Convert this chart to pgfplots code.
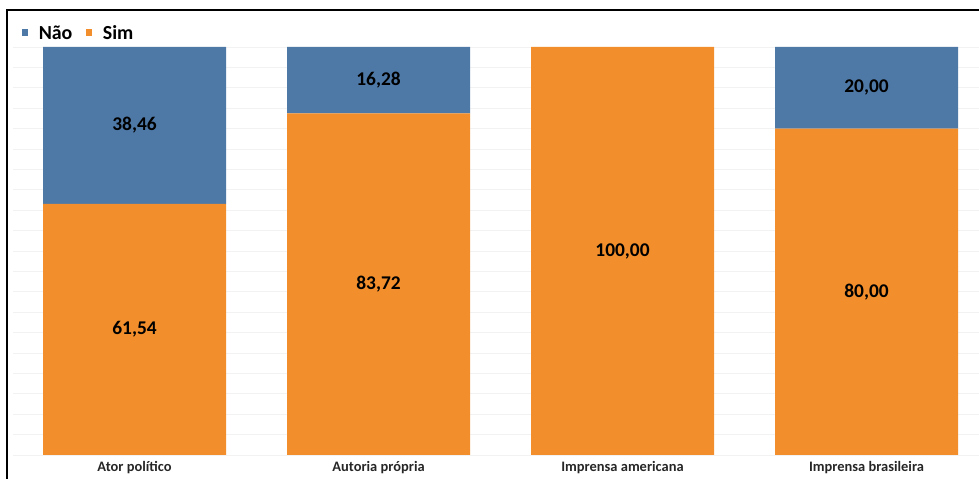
\documentclass[border=0pt]{standalone}
\usepackage{pgfplots}
\pgfplotsset{compat=1.18}
\usepackage{fontspec}
\setmainfont{Carlito}
\definecolor{nao}{HTML}{4E79A7}
\definecolor{sim}{HTML}{F28E2B}
\begin{document}
\begin{tikzpicture}[x=1bp,y=1bp]
\useasboundingbox (0,0) rectangle (979,479);
% frame around the chart
\draw[line width=2bp] (7,-5) -- (7,469) -- (990,469);
\begin{axis}[
  at={(13bp,24bp)}, anchor=south west,
  scale only axis, width=966bp, height=408bp,
  xmin=-0.498, xmax=3.461, ymin=0, ymax=100,
  ybar stacked, bar width=0.75,
  xtick={0,1,2,3},
  xticklabels={Ator político, Autoria própria, Imprensa americana, Imprensa brasileira},
  x tick label style={font=\bfseries\fontsize{14.5}{16}\selectfont, text=black!85, yshift=-3bp},
  ytick={0,5,...,100}, yticklabels={},
  ymajorgrids, grid style={color=black!5, line width=0.8bp},
  axis line style={draw=none}, major tick length=0pt,
  legend columns=2,
  legend style={at={(0.0095,1.036)}, anchor=west, draw=none, fill=none,
    font=\bfseries\fontsize{20}{22}\selectfont, inner sep=0pt,
    /tikz/every odd column/.append style={column sep=9bp},
    /tikz/every even column/.append style={column sep=12bp}},
  point meta=rawy,
  nodes near coords={\pgfmathfloatifflags{\pgfplotspointmeta}{0}{}{\pgfmathprintnumber{\pgfplotspointmeta}}},
  every node near coord/.append style={anchor=center,
    font=\bfseries\fontsize{19.5}{22}\selectfont, text=black},
  /pgf/number format/.cd, fixed, fixed zerofill, precision=2, use comma, assume math mode=true,
]
\addlegendimage{legend image code/.code={\fill[nao] (0bp,-3bp) rectangle (5bp,3bp);}}
\addlegendentry{\strut Não}
\addlegendimage{legend image code/.code={\fill[sim] (0bp,-3bp) rectangle (5bp,3bp);}}
\addlegendentry{\strut Sim}
% Sim (bottom segment)
\addplot[fill=sim, draw=none, forget plot] coordinates {(0,61.54) (1,83.72) (2,100) (3,80)};
% Não (top segment)
\addplot[fill=nao, draw=none, forget plot] coordinates {(0,38.46) (1,16.28) (2,0) (3,20)};
\end{axis}
\end{tikzpicture}
\end{document}
